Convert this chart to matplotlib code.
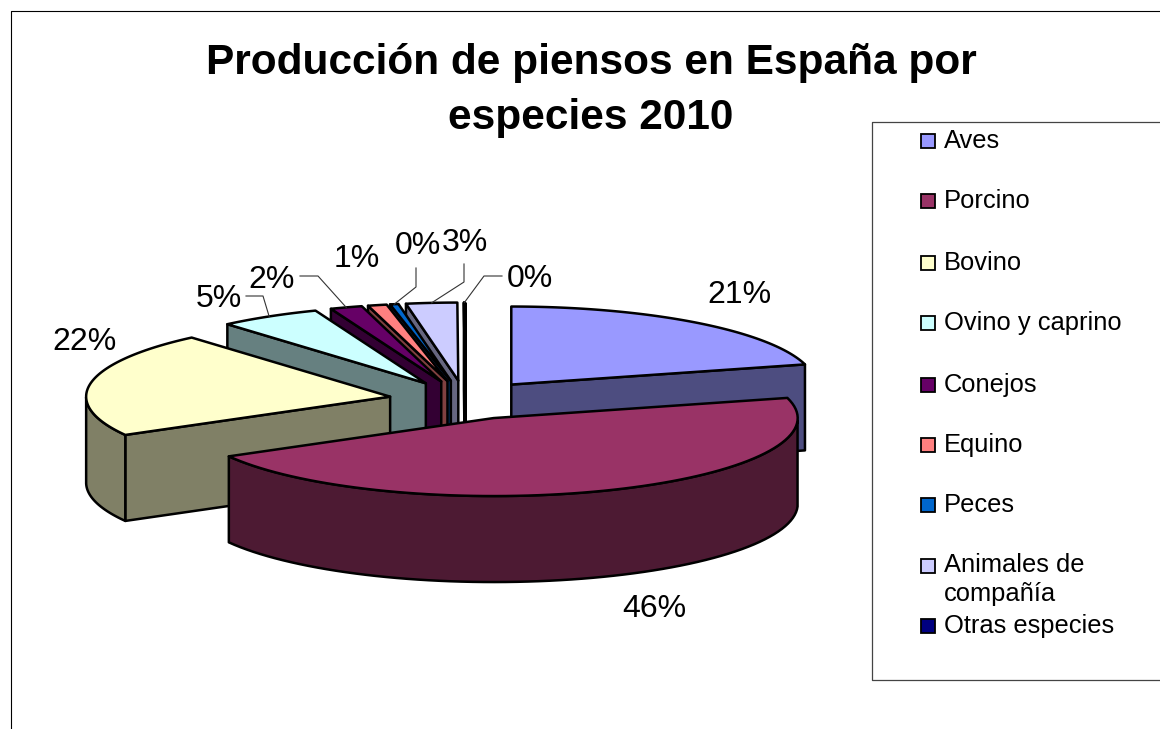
import numpy as np
import matplotlib
matplotlib.use("Agg")
import matplotlib.pyplot as plt
from matplotlib.colors import to_rgb
from matplotlib.patches import Polygon, Rectangle

plt.rcParams["font.family"] = ["Liberation Sans", "DejaVu Sans"]

title_lines = ["Producción de piensos en España por", "especies 2010"]
species = ["Aves", "Porcino", "Bovino", "Ovino y caprino", "Conejos", "Equino",
           "Peces", "Animales de\ncompañía", "Otras especies"]
shares = [20.8, 45.9, 21.8, 5.4, 1.7, 1, 0.45, 2.7, 0.05]
colors = ["#9999FF", "#993366", "#FFFFCC", "#CCFFFF", "#660066", "#FF8080",
          "#0066CC", "#CCCCFF", "#000080"]

# layout, in image pixels
CX, CY = 465, 400
RX, RY = 304, 78
DEPTH = 86
EXPLODE = 0.25
LW = 1.8
draw_order = [8, 7, 6, 5, 4, 3, 2, 0, 1]
title_y = [63, 118]
label_pos = [(739, 295), (654, 609), (84, 342), (219, 299), (272, 280),
             (357, 259), (418, 246), (465, 243), (530, 279)]
leaders = {3: [(246, 296), (263, 296)], 4: [(300, 276), (318, 276)],
           6: [(416, 268), (416, 287)], 7: [(464, 264), (464, 282)],
           8: [(502, 276), (484, 276)]}
legend_y = [141, 201, 263, 323, 385, 445, 505, 566, 626]


def rim(cx, cy, a):
    # angle is clockwise from the top of the pie
    return np.column_stack([cx + RX * np.sin(a), cy - RY * np.cos(a)])


def wall(top):
    return np.vstack([top, (top + [0, DEPTH])[::-1]])


def shade(c):
    return tuple(v * 0.5 for v in to_rgb(c))


def poly(ax, pts, fc):
    ax.add_patch(Polygon(pts, closed=True, fc=fc, ec="black", lw=LW, joinstyle="round"))


def main():
    fig = plt.figure(figsize=(11.6, 7.29), dpi=100)
    ax = fig.add_axes([0, 0, 1, 1])
    ax.set_xlim(0, 1160)
    ax.set_ylim(729, 0)
    ax.axis("off")

    ax.plot([11, 11, 1160], [729, 11, 11], color="black", lw=0.8)
    for line, y in zip(title_lines, title_y):
        ax.text(591, y, line, ha="center", va="center", fontsize=30.5, fontweight="bold")

    edges = np.radians(np.cumsum([0] + shares) / sum(shares) * 360)
    mids = (edges[:-1] + edges[1:]) / 2

    for i in draw_order:
        a0, a1 = edges[i], edges[i + 1]
        ox = CX + EXPLODE * RX * np.sin(mids[i])
        oy = CY - EXPLODE * RY * np.cos(mids[i])
        apex = np.array([[ox, oy]])
        a = np.linspace(a0, a1, 80)
        arc = rim(ox, oy, a)
        side = shade(colors[i])

        if np.cos(a0 - np.pi / 2) < 0:
            poly(ax, wall(np.vstack([apex, arc[:1]])), side)
        if np.cos(a1 + np.pi / 2) < 0:
            poly(ax, wall(np.vstack([apex, arc[-1:]])), side)
        front = arc[np.cos(a) < 0]
        if len(front) > 1:
            poly(ax, wall(front), side)
        fc = "white" if i == 8 else colors[i]
        poly(ax, np.vstack([apex, arc]), fc)

    for i, (x, y) in enumerate(label_pos):
        ax.text(x, y, f"{round(shares[i])}%", ha="center", va="center", fontsize=23)

    for i, pts in leaders.items():
        ox = CX + EXPLODE * RX * np.sin(mids[i])
        oy = CY - EXPLODE * RY * np.cos(mids[i])
        end = rim(ox, oy, np.array([mids[i]]))
        line = np.vstack([pts, end])
        ax.plot(line[:, 0], line[:, 1], color="#333333", lw=0.8)

    # legend box runs off the right side of the picture
    ax.plot([1160, 872, 872, 1160], [122, 122, 680, 680], color="#444444", lw=0.9)
    for name, c, y in zip(species, colors, legend_y):
        ax.add_patch(Rectangle((921, y - 7), 14, 14, fc=c, ec="black", lw=1.3))
        if "\n" in name:
            ax.text(944, y - 13, name, ha="left", va="top", fontsize=18.4, linespacing=1.27)
        else:
            ax.text(944, y, name, ha="left", va="center", fontsize=18.4)

    fig.savefig("out.png", dpi=100)


if __name__ == "__main__":
    main()
